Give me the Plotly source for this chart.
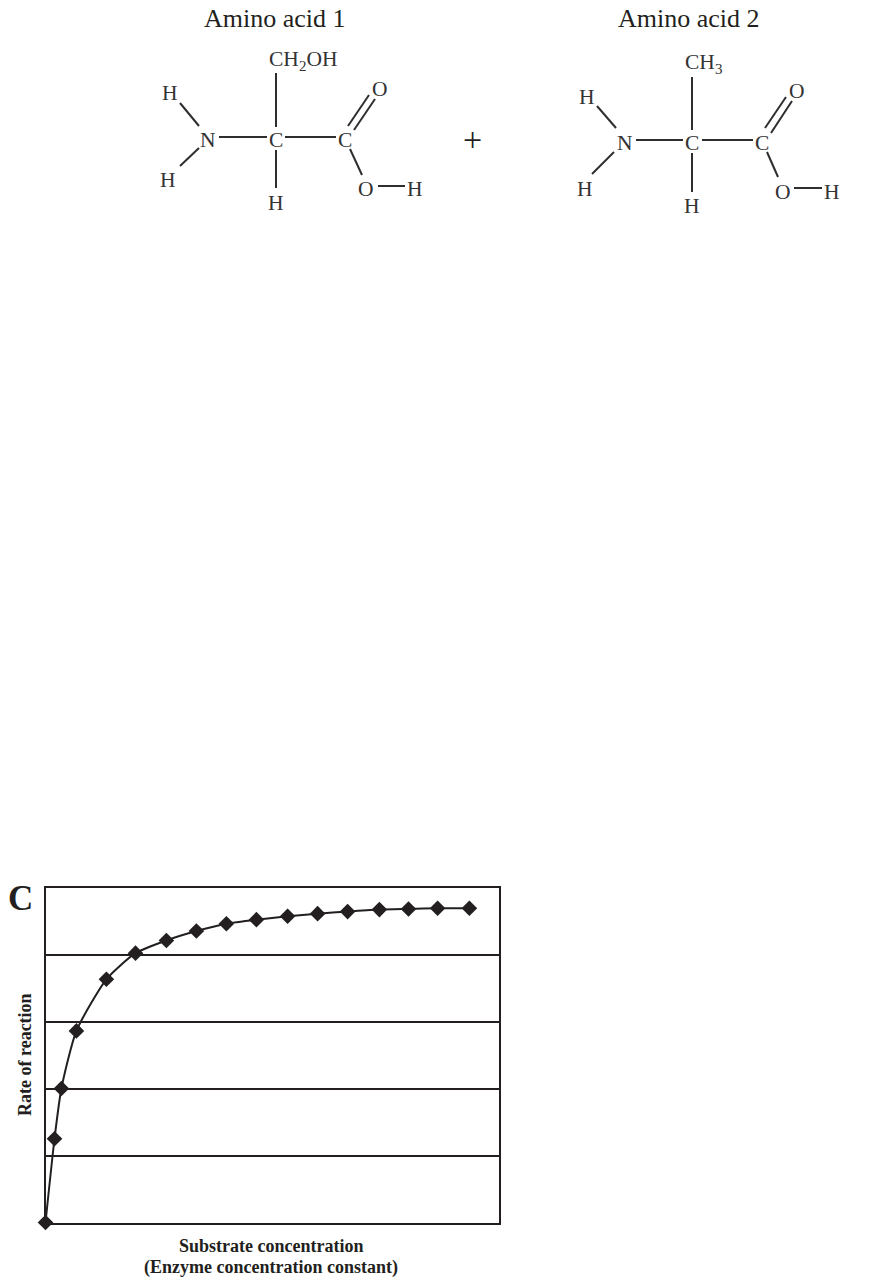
import plotly.graph_objects as go

# ---- chart data ----
substrate = [0, 0.3, 0.53, 1.03, 2.03, 3.0, 4.03, 5.03, 6.03, 7.03, 8.07, 9.07, 10.07, 11.13, 12.1, 13.07, 14.13]
rate = [0, 1.25, 2.0, 2.86, 3.63, 4.02, 4.21, 4.35, 4.46, 4.52, 4.57, 4.61, 4.64, 4.67, 4.68, 4.69, 4.69]
grid_levels = [0, 1, 2, 3, 4, 5]
x_title_lines = [("Substrate concentration", 1246), ("(Enzyme concentration constant)", 1267)]
y_title = "Rate of reaction"

# ---- molecule diagrams, page-pixel drawing layer ----
bonds = [
    # amino acid 1
    (276, 73, 276, 127), (180, 103, 199, 126), (180, 166, 199, 148), (219, 137, 267, 137),
    (285, 137, 336, 137), (276, 150, 276, 188), (348, 126, 369, 95), (354, 130, 375, 99),
    (350, 149, 362, 175), (378, 186, 405, 186),
    # amino acid 2
    (692, 77, 692, 130), (597, 106, 616, 128), (592, 174, 614, 152), (636, 140, 683, 140),
    (702, 140, 753, 140), (692, 153, 692, 192), (765, 128, 786, 97), (771, 133, 792, 101),
    (767, 152, 778, 177), (794, 188, 822, 188),
]
atoms = [
    ("CH<sub>2</sub>OH", 302.5, 60), ("H", 170, 93), ("N", 208, 140), ("C", 276, 140), ("C", 345, 140),
    ("O", 380, 89), ("H", 168, 180), ("H", 276, 203), ("O", 366, 189), ("H", 415, 189),
    ("CH<sub>3</sub>", 703, 63), ("H", 587, 97), ("N", 625, 143), ("C", 692, 143), ("C", 762, 143),
    ("O", 797, 91), ("H", 585, 189), ("H", 692, 206), ("O", 783, 192), ("H", 832, 192),
]
titles = [("Amino acid 1", 275, 18), ("Amino acid 2", 689, 18)]
INK = "#231f20"
SERIF = "Liberation Serif"

fig = go.Figure()

bx, by = [], []
for x0, y0, x1, y1 in bonds:
    bx += [x0, x1, None]
    by += [y0, y1, None]
fig.add_trace(go.Scatter(x=bx, y=by, xaxis="x2", yaxis="y2", mode="lines",
                         line=dict(color="#2e2e2e", width=2), hoverinfo="skip", showlegend=False))

fig.add_trace(go.Scatter(x=substrate, y=rate, mode="lines+markers", cliponaxis=False,
                         line=dict(color=INK, width=2, shape="spline", smoothing=0.6),
                         marker=dict(symbol="diamond", size=12, color=INK),
                         showlegend=False))

annotations = []
for text, x, y in atoms:
    annotations.append(dict(text=text, x=x, y=y, xref="x2", yref="y2", showarrow=False,
                            font=dict(family=SERIF, size=21.5, color="#333333")))
for text, x, y in titles:
    annotations.append(dict(text=text, x=x, y=y, xref="x2", yref="y2", showarrow=False,
                            font=dict(family=SERIF, size=26, color=INK)))
annotations.append(dict(text="+", x=472, y=139, xref="x2", yref="y2", showarrow=False,
                        font=dict(family=SERIF, size=34, color=INK)))
annotations.append(dict(text="<b>C</b>", x=20, y=898, xref="x2", yref="y2", showarrow=False,
                        font=dict(family=SERIF, size=35, color=INK)))
for text, y in x_title_lines:
    annotations.append(dict(text="<b>" + text + "</b>", x=271, y=y, xref="x2", yref="y2", showarrow=False,
                            font=dict(family=SERIF, size=18, color=INK)))
annotations.append(dict(text="<b>" + y_title + "</b>", x=25, y=1055, xref="x2", yref="y2",
                        showarrow=False, textangle=-90,
                        font=dict(family=SERIF, size=18, color=INK)))

W, H = 871, 1283
fig.update_layout(
    width=W, height=H, autosize=False,
    margin=dict(l=0, r=0, t=0, b=0),
    paper_bgcolor="white", plot_bgcolor="rgba(0,0,0,0)",
    annotations=annotations,
    xaxis=dict(domain=[45.5 / W, 498.5 / W], range=[0, 15.1], showticklabels=False, ticks="",
               showgrid=False, zeroline=False, showline=True, mirror=True, linecolor=INK, linewidth=2.4),
    yaxis=dict(domain=[1 - 1222.5 / H, 1 - 887.5 / H], range=[0, 5], tickvals=grid_levels,
               showticklabels=False, ticks="", showgrid=True, gridcolor=INK, gridwidth=2.2,
               zeroline=False, showline=True, mirror=True, linecolor=INK, linewidth=2.4),
    xaxis2=dict(domain=[0, 1], range=[0, W], anchor="y2", visible=False, fixedrange=True),
    yaxis2=dict(domain=[0, 1], range=[H, 0], anchor="x2", visible=False, fixedrange=True),
)
fig.write_html("out.html", config=dict(displayModeBar=False),
               post_script="document.body.style.margin='0';")
